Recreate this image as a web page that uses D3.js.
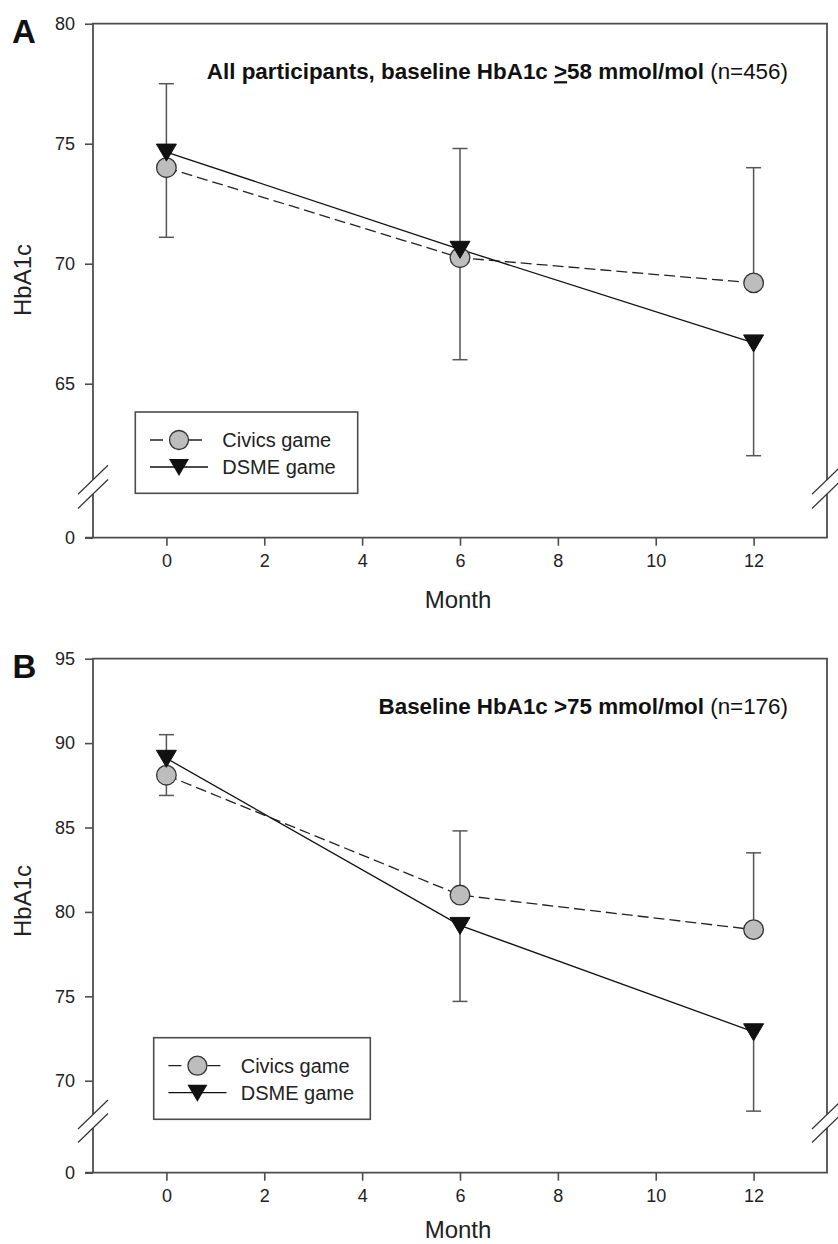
<!DOCTYPE html>
<html>
<head>
<meta charset="utf-8">
<script src="https://cdn.jsdelivr.net/npm/d3@7"></script>
<style>
  html, body { margin: 0; padding: 0; background: #fff; }
  svg { display: block; }
  text { font-family: "Liberation Sans", Arial, Helvetica, sans-serif; }
</style>
</head>
<body>
<svg id="chart" width="838" height="1244"></svg>
<script>
// ---------------- data ----------------
const months = [0, 6, 12];
const monthTicks = [0, 2, 4, 6, 8, 10, 12];

// Panel A: all participants, baseline HbA1c >=58 mmol/mol (n=456)
const civicsA = [74.0, 70.25, 69.2];
const civicsA_errUp = [3.5, 4.55, 4.8];
const dsmeA = [74.65, 70.6, 66.7];
const dsmeA_errDown = [3.55, 4.6, 4.7];
const yTicksA = [65, 70, 75, 80];

// Panel B: baseline HbA1c >75 mmol/mol (n=176)
const civicsB = [88.1, 81.0, 78.95];
const civicsB_errUp = [2.4, 3.8, 4.55];
const dsmeB = [89.1, 79.2, 72.9];
const dsmeB_errDown = [2.2, 4.5, 4.7];
const yTicksB = [70, 75, 80, 85, 90, 95];

const seriesNames = ["Civics game", "DSME game"];

// ---------------- drawing ----------------
const svg = d3.select("#chart");
const AX = "#4d4d4d";
const TXT = "#222";

const x = d3.scaleLinear().domain([-1.5, 13.5]).range([93, 827]);

function drawPanel(cfg) {
  const g = svg.append("g");
  const yU = d3.scaleLinear().domain(cfg.upperDomain).range([cfg.b1, cfg.top]);
  const yL = d3.scaleLinear().domain([0, 1]).range([cfg.bottom, cfg.b2]);
  const L = x.range()[0], R = x.range()[1];

  // frame with breaks
  const frame = g.append("g").attr("stroke", AX).attr("stroke-width", 1.8).attr("fill", "none");
  frame.append("line").attr("x1", L - 0.9).attr("x2", R + 0.9).attr("y1", cfg.top).attr("y2", cfg.top);
  [L, R].forEach(xx => {
    frame.append("line").attr("x1", xx).attr("x2", xx).attr("y1", cfg.top).attr("y2", cfg.b1);
    frame.append("line").attr("x1", xx).attr("x2", xx).attr("y1", cfg.b2).attr("y2", cfg.bottom);
    [cfg.b1, cfg.b2].forEach(by => {
      g.append("line").attr("x1", xx - 15).attr("y1", by + 14.5).attr("x2", xx + 15).attr("y2", by - 14.5)
        .attr("stroke", "#333").attr("stroke-width", 1.2);
    });
  });

  // axes
  const xAxis = d3.axisBottom(x).tickValues(monthTicks).tickSize(8).tickPadding(9).tickFormat(d3.format("d"));
  const gx = g.append("g").attr("transform", `translate(0,${cfg.bottom})`).call(xAxis);
  gx.select(".domain").attr("stroke", AX).attr("stroke-width", 1.8).attr("d", `M${L - 8},0H${R + 0.9}`);
  gx.selectAll(".tick line").attr("stroke", AX).attr("stroke-width", 1.6);
  gx.selectAll(".tick text").attr("fill", TXT).style("font-size", "18px").attr("font-family", null);

  const yAxisU = d3.axisLeft(yU).tickValues(cfg.yTicks).tickSize(8).tickPadding(10).tickFormat(d3.format("d"));
  const gyU = g.append("g").attr("transform", `translate(${L},0)`).call(yAxisU);
  gyU.select(".domain").remove();
  gyU.selectAll(".tick line").attr("stroke", AX).attr("stroke-width", 1.6);
  gyU.selectAll(".tick text").attr("fill", TXT).style("font-size", "18px").attr("font-family", null);

  const yAxisL = d3.axisLeft(yL).tickValues([0]).tickSize(8).tickPadding(10).tickFormat(d3.format("d"));
  const gyL = g.append("g").attr("transform", `translate(${L},0)`).call(yAxisL);
  gyL.select(".domain").remove();
  gyL.selectAll(".tick line").attr("stroke", AX).attr("stroke-width", 1.6);
  gyL.selectAll(".tick text").attr("fill", TXT).style("font-size", "18px").attr("font-family", null);

  // axis labels
  g.append("text").attr("x", 458).attr("y", cfg.bottom + cfg.monthDy).attr("text-anchor", "middle")
    .attr("fill", TXT).style("font-size", "24px").text("Month");
  g.append("text").attr("transform", `translate(${31},${cfg.ylabelY}) rotate(-90)`)
    .attr("text-anchor", "middle").attr("fill", TXT).style("font-size", "24px").text("HbA1c");

  // panel letter
  g.append("text").attr("x", cfg.letterX).attr("y", cfg.top + 19).attr("fill", "#111")
    .style("font-size", "33px").style("font-weight", "bold").text(cfg.letter);

  // title
  const t = g.append("text").attr("x", 788).attr("y", cfg.top + 55.5).attr("text-anchor", "end")
    .attr("fill", "#111").style("font-size", "22.4px");
  cfg.title(t);

  // error bars
  const eb = g.append("g").attr("stroke", "#555").attr("stroke-width", 1.5);
  function errBar(xv, y0, y1) {
    eb.append("line").attr("x1", x(xv)).attr("x2", x(xv)).attr("y1", yU(y0)).attr("y2", yU(y1));
    eb.append("line").attr("x1", x(xv) - 7.5).attr("x2", x(xv) + 7.5).attr("y1", yU(y1)).attr("y2", yU(y1));
  }
  months.forEach((m, i) => {
    errBar(m, cfg.civics[i], cfg.civics[i] + cfg.civicsErr[i]);
    errBar(m, cfg.dsme[i], cfg.dsme[i] - cfg.dsmeErr[i]);
  });

  // lines
  const line = d3.line().x(d => x(d[0])).y(d => yU(d[1]));
  g.append("path").datum(months.map((m, i) => [m, cfg.civics[i]])).attr("d", line)
    .attr("fill", "none").attr("stroke", "#222").attr("stroke-width", 1.3).attr("stroke-dasharray", "11,5");
  g.append("path").datum(months.map((m, i) => [m, cfg.dsme[i]])).attr("d", line)
    .attr("fill", "none").attr("stroke", "#111").attr("stroke-width", 1.3);

  // markers
  const tri = "M-10,-8L10,-8L0,9Z";
  g.selectAll(".circ").data(months.map((m, i) => [m, cfg.civics[i]])).enter().append("circle")
    .attr("cx", d => x(d[0])).attr("cy", d => yU(d[1])).attr("r", 9.8)
    .attr("fill", "#bdbdbd").attr("stroke", "#333").attr("stroke-width", 1.3);
  g.selectAll(".tri").data(months.map((m, i) => [m, cfg.dsme[i]])).enter().append("path")
    .attr("d", tri).attr("transform", d => `translate(${x(d[0])},${yU(d[1])})`)
    .attr("fill", "#111").attr("stroke", "#111").attr("stroke-width", 1);

  // legend
  const lg = cfg.legend;
  g.append("rect").attr("x", lg.x).attr("y", lg.y).attr("width", lg.w).attr("height", lg.h)
    .attr("fill", "#fff").attr("stroke", AX).attr("stroke-width", 1.6);
  const r1 = lg.y + 28, r2 = lg.y + 55;
  const lx = lg.x + 14.7;
  g.append("line").attr("x1", lx).attr("x2", lx + 52).attr("y1", r1).attr("y2", r1)
    .attr("stroke", "#222").attr("stroke-width", 1.3).attr("stroke-dasharray", "13,26");
  g.append("circle").attr("cx", lx + 29).attr("cy", r1).attr("r", 9.5)
    .attr("fill", "#bdbdbd").attr("stroke", "#333").attr("stroke-width", 1.3);
  g.append("line").attr("x1", lx).attr("x2", lx + 58).attr("y1", r2).attr("y2", r2)
    .attr("stroke", "#111").attr("stroke-width", 1.3);
  g.append("path").attr("d", tri).attr("transform", `translate(${lx + 29},${r2})`).attr("fill", "#111");
  g.append("text").attr("x", lx + 72.3).attr("y", r1 + 7).attr("fill", TXT).style("font-size", "20px").text(seriesNames[0]);
  g.append("text").attr("x", lx + 72.3).attr("y", r2 + 7).attr("fill", TXT).style("font-size", "20px").text(seriesNames[1]);
}

drawPanel({
  letter: "A", letterX: 12,
  top: 23.7, bottom: 537.7, b1: 479.7, b2: 494, monthDy: 70,
  upperDomain: [61, 80], yTicks: yTicksA, ylabelY: 280,
  civics: civicsA, civicsErr: civicsA_errUp, dsme: dsmeA, dsmeErr: dsmeA_errDown,
  legend: { x: 135.3, y: 412, w: 222.4, h: 81.3 },
  title: t => {
    t.append("tspan").style("font-weight", "bold").text("All participants, baseline HbA1c ");
    t.append("tspan").style("font-weight", "bold").style("text-decoration", "underline").text(">");
    t.append("tspan").style("font-weight", "bold").text("58 mmol/mol ");
    t.append("tspan").text("(n=456)");
  }
});

drawPanel({
  letter: "B", letterX: 12.5,
  top: 658.7, bottom: 1172.7, b1: 1114.5, b2: 1128, monthDy: 65,
  upperDomain: [68, 95], yTicks: yTicksB, ylabelY: 901,
  civics: civicsB, civicsErr: civicsB_errUp, dsme: dsmeB, dsmeErr: dsmeB_errDown,
  legend: { x: 153.7, y: 1037.7, w: 216.6, h: 81.6 },
  title: t => {
    t.append("tspan").style("font-weight", "bold").text("Baseline HbA1c >75 mmol/mol ");
    t.append("tspan").text("(n=176)");
  }
});
</script>
</body>
</html>
